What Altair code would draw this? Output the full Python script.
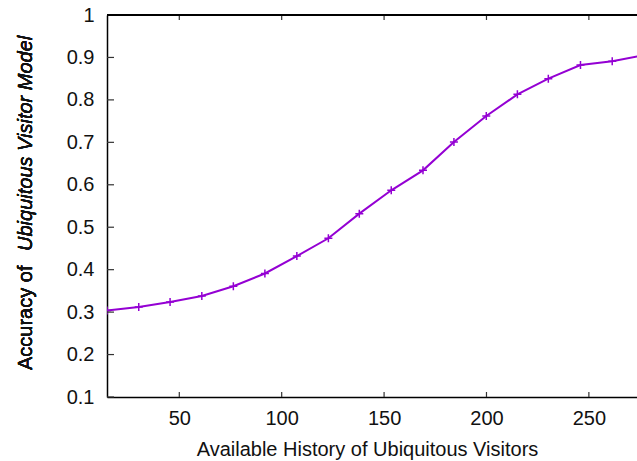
import altair as alt
import pandas as pd

# Data
history = [14.7, 30.2, 45.5, 61.0, 76.4, 91.8, 107.4, 122.8, 137.9, 153.5,
           169.0, 184.1, 199.9, 215.1, 230.2, 245.9, 261.4, 276.8]
accuracy = [0.304, 0.312, 0.324, 0.338, 0.361, 0.391, 0.432, 0.474, 0.532, 0.587,
            0.634, 0.701, 0.762, 0.813, 0.850, 0.882, 0.891, 0.905]
x_ticks = [50, 100, 150, 200, 250]
y_ticks = [0.1, 0.2, 0.3, 0.4, 0.5, 0.6, 0.7, 0.8, 0.9, 1.0]

x_title = "Available History of Ubiquitous Visitors"
y_title_plain = "Accuracy of"
y_title_italic = "Ubiquitous Visitor Model"

PURPLE = "#9400D3"
FONT = "Liberation Sans"
W, H = 530, 382

df = pd.DataFrame({"x": history, "y": accuracy})
xt = pd.DataFrame({"x": x_ticks})
yt = pd.DataFrame({"y": y_ticks})

X = alt.X("x:Q",
          scale=alt.Scale(domain=[14.7, 273.5], nice=False, zero=False),
          axis=alt.Axis(values=x_ticks, ticks=False, grid=False, labelPadding=11,
                        labelFontSize=20, labelFont=FONT, labelColor="#111",
                        domainColor="#000", domainWidth=1.5,
                        title=x_title, titleFont=FONT, titleFontSize=20,
                        titleFontWeight="normal", titleColor="#111",
                        titleBaseline="alphabetic", titleY=58, titleX=260,
                        titleAlign="center", labelFlush=False))
Y = alt.Y("y:Q",
          scale=alt.Scale(domain=[0.1, 1.0], nice=False, zero=False),
          axis=alt.Axis(values=y_ticks, ticks=False, grid=False, labelPadding=13,
                        labelFontSize=20, labelFont=FONT, labelColor="#111",
                        domainColor="#000", domainWidth=1.5, title=None,
                        labelFlush=False,
                        labelExpr="datum.value == 1 ? '1' : format(datum.value, '.1f')"))

line = alt.Chart(df).mark_line(color=PURPLE, strokeWidth=2, clip=True).encode(x=X, y=Y)
pts = alt.Chart(df).mark_point(shape="M-1,0L1,0M0,-1L0,1", filled=False, size=64,
                               strokeWidth=1.5, color=PURPLE, opacity=1,
                               clip=True).encode(x=X, y=Y)

xtick_bottom = alt.Chart(xt).mark_rule(color="#333", strokeWidth=1.2).encode(
    x=X, y=alt.value(H), y2=alt.value(H - 5))
xtick_top = alt.Chart(xt).mark_rule(color="#333", strokeWidth=1.2).encode(
    x=X, y=alt.value(0), y2=alt.value(5))
ytick_left = alt.Chart(yt).mark_rule(color="#333", strokeWidth=1.2).encode(
    y=Y, x=alt.value(0), x2=alt.value(7))
top_border = alt.Chart(xt).mark_rule(color="#000", strokeWidth=1.5).encode(
    x=alt.value(0), x2=alt.value(W + 5), y=alt.value(0))

ytitle1 = alt.Chart(xt).mark_text(text=y_title_plain, angle=270, align="left",
                                  baseline="alphabetic", font=FONT, fontSize=20,
                                  color="#111").encode(x=alt.value(-75), y=alt.value(355))
ytitle2 = alt.Chart(xt).mark_text(text=y_title_italic, angle=270, align="left",
                                  baseline="alphabetic", font=FONT, fontSize=20,
                                  fontStyle="italic", color="#111").encode(
    x=alt.value(-75), y=alt.value(236))

chart = alt.layer(line, pts, xtick_bottom, xtick_top, ytick_left, top_border,
                  ytitle1, ytitle2).properties(
    width=W, height=H,
    autosize=alt.AutoSizeParams(type="none"),
    padding={"left": 107, "top": 15, "right": 0, "bottom": 64},
    background="white",
).configure_view(stroke=None)

chart.save("out.html", embed_options={"renderer": "svg", "actions": False})
